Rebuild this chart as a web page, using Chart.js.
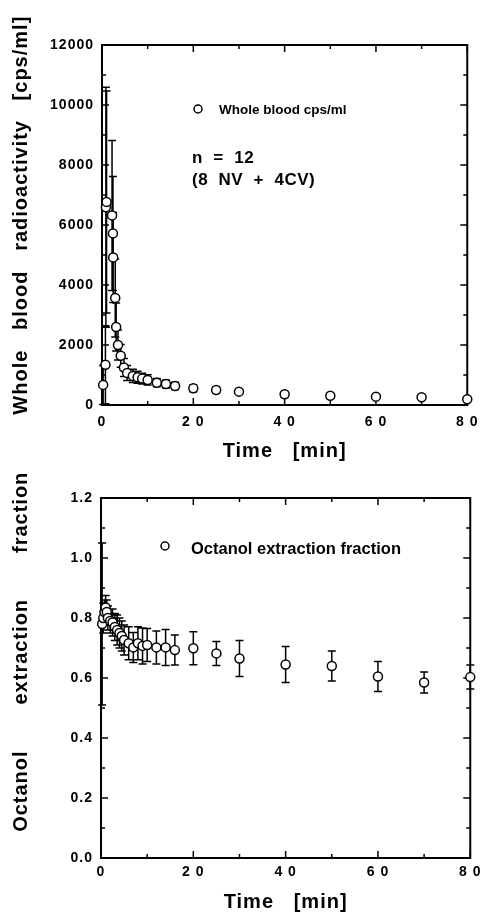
<!DOCTYPE html>
<html>
<head>
<meta charset="utf-8">
<script src="https://cdn.jsdelivr.net/npm/chart.js@4.4.1/dist/chart.umd.min.js"></script>
<style>
  html, body { margin: 0; padding: 0; background: #fff; }
  #wrap { position: relative; width: 486px; height: 915px; }
  canvas { position: absolute; left: 0; }
  #bloodChart { top: 0; }
  #octanolChart { top: 440px; }
</style>
</head>
<body>
<div id="wrap">
<canvas id="bloodChart" width="486" height="470"></canvas>
<canvas id="octanolChart" width="486" height="475"></canvas>
</div>
<script>
// Whole blood radioactivity [cps/ml], mean and SD per time point [min]
const bloodTime = [0.25, 0.75, 0.85, 1.0, 2.2, 2.4, 2.45, 2.9, 3.1, 3.5, 4.1, 4.8, 5.5, 6.75, 7.8, 8.8, 10, 12, 14, 16, 20, 25, 30, 40, 50, 60, 70, 80];
const bloodMean = [670, 1340, 6590, 6770, 6320, 5720, 4920, 3570, 2600, 2000, 1640, 1250, 1070, 970, 925, 880, 835, 745, 700, 635, 555, 500, 445, 357, 311, 278, 257, 190];
const bloodSD = [650, 1300, 4000, 3700, 2500, 1900, 1500, 1300, 800, 500, 380, 300, 250, 220, 200, 180, 170, 140, 130, 120, 110, 90, 80, 80, 70, 60, 60, 50];

// Octanol extraction fraction, mean and SD per time point [min]
const octTime = [0.25, 0.5, 0.75, 1, 1.25, 1.5, 2, 2.5, 3, 3.5, 4, 4.5, 5, 6, 7, 8, 9, 10, 12, 14, 16, 20, 25, 30, 40, 50, 60, 70, 80];
const octMean = [0.78, 0.80, 0.82, 0.835, 0.82, 0.80, 0.79, 0.785, 0.77, 0.76, 0.75, 0.74, 0.727, 0.716, 0.702, 0.716, 0.707, 0.71, 0.702, 0.702, 0.693, 0.699, 0.682, 0.665, 0.645, 0.64, 0.605, 0.585, 0.603];
const octSD = [0.27, 0.05, 0.04, 0.04, 0.04, 0.04, 0.04, 0.045, 0.045, 0.05, 0.05, 0.05, 0.05, 0.055, 0.05, 0.055, 0.06, 0.055, 0.055, 0.06, 0.05, 0.055, 0.04, 0.06, 0.06, 0.05, 0.05, 0.035, 0.04];

const FONT = "'Liberation Sans', Arial, sans-serif";

// box frame with inward major/minor ticks on all four sides
const paperFrame = {
    id: 'paperFrame',
    beforeDraw(chart) {
        chart.ctx.letterSpacing = '1px';
    },
    beforeDatasetsDraw(chart, args, opts) {
        const { ctx, chartArea: a, scales: { x, y } } = chart;
        ctx.save();
        ctx.strokeStyle = '#000';
        ctx.lineWidth = 2;
        ctx.strokeRect(a.left, a.top, a.right - a.left, a.bottom - a.top);
        ctx.lineWidth = 1.5;
        ctx.beginPath();
        const isMajor = (v, step) => Math.abs(v / step - Math.round(v / step)) < 1e-6;
        for (let v = x.min; v <= x.max + 1e-9; v += opts.xMinor) {
            const px = x.getPixelForValue(v);
            const len = isMajor(v, opts.xMajor) ? 7 : 4;
            ctx.moveTo(px, a.bottom); ctx.lineTo(px, a.bottom - len);
            ctx.moveTo(px, a.top); ctx.lineTo(px, a.top + len);
        }
        for (let v = y.min; v <= y.max + 1e-9; v += opts.yMinor) {
            const py = y.getPixelForValue(v);
            const len = isMajor(v, opts.yMajor) ? 7 : 4;
            ctx.moveTo(a.left, py); ctx.lineTo(a.left + len, py);
            ctx.moveTo(a.right, py); ctx.lineTo(a.right - len, py);
        }
        ctx.stroke();
        ctx.restore();
    }
};

// vertical SD bars with caps, drawn under the points
const errorBars = {
    id: 'errorBars',
    beforeDatasetsDraw(chart, args, opts) {
        const { ctx, scales: { x, y } } = chart;
        const pts = chart.data.datasets[0].data;
        ctx.save();
        ctx.strokeStyle = '#000';
        ctx.lineWidth = 1.5;
        ctx.beginPath();
        pts.forEach((p, i) => {
            const px = x.getPixelForValue(p.x);
            const top = y.getPixelForValue(p.y + opts.sd[i]);
            const bot = y.getPixelForValue(Math.max(p.y - opts.sd[i], y.min));
            ctx.moveTo(px, top); ctx.lineTo(px, bot);
            ctx.moveTo(px - 4, top); ctx.lineTo(px + 4, top);
            ctx.moveTo(px - 4, bot); ctx.lineTo(px + 4, bot);
        });
        ctx.stroke();
        ctx.restore();
    }
};

// legend symbol and free text inside the plot
const notes = {
    id: 'notes',
    afterDraw(chart, args, opts) {
        const ctx = chart.ctx;
        ctx.save();
        ctx.strokeStyle = '#000';
        if (opts.marker) {
            ctx.fillStyle = '#fff';
            ctx.lineWidth = 1.5;
            ctx.beginPath();
            ctx.arc(opts.marker.x, opts.marker.y, 4, 0, Math.PI * 2);
            ctx.fill();
            ctx.stroke();
        }
        ctx.fillStyle = '#000';
        ctx.textBaseline = 'middle';
        ctx.textAlign = 'left';
        opts.texts.forEach(t => {
            ctx.letterSpacing = t.spacing || '0px';
            ctx.font = `bold ${t.size}px ${FONT}`;
            ctx.fillText(t.text, t.x, t.y);
        });
        ctx.restore();
    }
};

const tickFont = { family: FONT, size: 14, weight: 'bold' };
const titleFont = { family: FONT, size: 20, weight: 'bold' };
const spacedDigits = v => String(v).split('').join(' ');

function pointDataset(label, xs, ys) {
    return {
        label: label,
        data: xs.map((t, i) => ({ x: t, y: ys[i] })),
        showLine: false,
        pointStyle: 'circle',
        pointRadius: 4.5,
        pointHoverRadius: 4.5,
        pointBorderWidth: 1.5,
        pointBackgroundColor: '#fff',
        pointBorderColor: '#000',
        clip: false
    };
}

// Top panel: whole blood radioactivity
new Chart(document.getElementById('bloodChart'), {
    type: 'scatter',
    data: { datasets: [pointDataset('Whole blood cps/ml', bloodTime, bloodMean)] },
    options: {
        responsive: false,
        animation: false,
        layout: { padding: { top: 45, right: 13, left: 0, bottom: 0 } },
        plugins: {
            legend: { display: false },
            tooltip: { enabled: false },
            paperFrame: { xMajor: 20, xMinor: 10, yMajor: 2000, yMinor: 1000 },
            errorBars: { sd: bloodSD },
            notes: {
                marker: { x: 198, y: 109 },
                texts: [
                    { text: 'Whole blood cps/ml', x: 219, y: 110, size: 13.5 },
                    { text: 'n  =  12', x: 192, y: 158, size: 17, spacing: '0.5px' },
                    { text: '(8  NV  +  4CV)', x: 192, y: 180, size: 17, spacing: '0.5px' }
                ]
            }
        },
        scales: {
            x: {
                type: 'linear', min: 0, max: 80,
                afterFit: s => { s.height = 65; },
                grid: { display: false, drawTicks: false },
                border: { display: false },
                ticks: { stepSize: 20, padding: 9, color: '#000', font: tickFont, callback: spacedDigits },
                title: { display: true, text: 'Time   [min]', color: '#000', font: titleFont, padding: { top: 0, bottom: 7 } }
            },
            y: {
                min: 0, max: 12000,
                afterFit: s => { s.width = 102; },
                grid: { display: false, drawTicks: false },
                border: { display: false },
                ticks: { stepSize: 2000, padding: 8, color: '#000', font: tickFont, callback: v => String(v) },
                title: { display: true, text: '   Whole   blood   radioactivity   [cps/ml]', color: '#000', font: titleFont, padding: { top: 9, bottom: 0 } }
            }
        }
    },
    plugins: [paperFrame, errorBars, notes]
});

// Bottom panel: octanol extraction fraction
new Chart(document.getElementById('octanolChart'), {
    type: 'scatter',
    data: { datasets: [pointDataset('Octanol extraction fraction', octTime, octMean)] },
    options: {
        responsive: false,
        animation: false,
        layout: { padding: { top: 58, right: 15, left: 0, bottom: 0 } },
        plugins: {
            legend: { display: false },
            tooltip: { enabled: false },
            paperFrame: { xMajor: 20, xMinor: 10, yMajor: 0.2, yMinor: 0.1 },
            errorBars: { sd: octSD },
            notes: {
                marker: { x: 165, y: 106 },
                texts: [
                    { text: 'Octanol extraction fraction', x: 191, y: 109, size: 16.5 }
                ]
            }
        },
        scales: {
            x: {
                type: 'linear', min: 0, max: 80,
                afterFit: s => { s.height = 57; },
                grid: { display: false, drawTicks: false },
                border: { display: false },
                ticks: { stepSize: 20, padding: 6, color: '#000', font: tickFont, callback: spacedDigits },
                title: { display: true, text: 'Time   [min]', color: '#000', font: titleFont, padding: { top: 0, bottom: 1 } }
            },
            y: {
                min: 0, max: 1.2,
                afterFit: s => { s.width = 101; },
                grid: { display: false, drawTicks: false },
                border: { display: false },
                ticks: { stepSize: 0.2, padding: 8, color: '#000', font: tickFont, callback: v => v.toFixed(1) },
                title: { display: true, text: '        Octanol       extraction       fraction', color: '#000', font: titleFont, padding: { top: 9, bottom: 0 } }
            }
        }
    },
    plugins: [paperFrame, errorBars, notes]
});
</script>
</body>
</html>
